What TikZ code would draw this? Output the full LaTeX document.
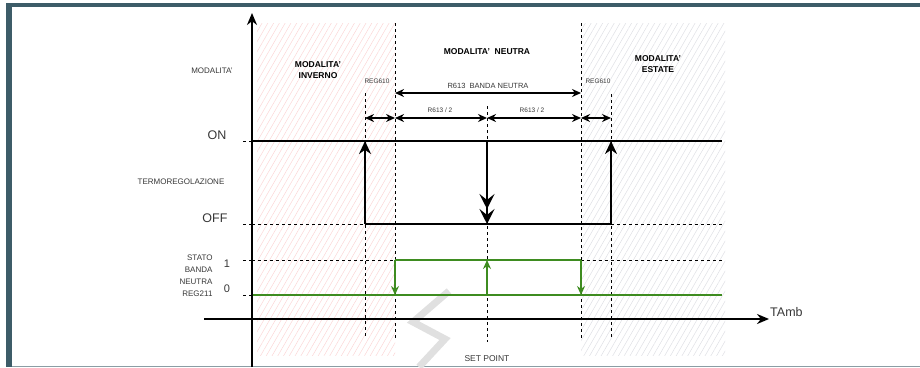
\documentclass[tikz,border=0pt]{standalone}
\usepackage{fontspec}
\setmainfont{Liberation Sans}
\usetikzlibrary{arrows.meta, positioning, patterns.meta, calc}
\definecolor{framegrey}{RGB}{61,92,104}
\definecolor{bandgreen}{RGB}{62,140,32}
\definecolor{winterpink}{RGB}{251,214,214}
\definecolor{summergrey}{RGB}{222,223,228}
\definecolor{labelgrey}{RGB}{55,55,55}

\begin{document}
\begin{tikzpicture}[
    x=1pt, y=-1pt,
    axis/.style={line width=2.6pt, -{Stealth[length=12pt, width=10pt]}},
    level/.style={line width=1.8pt},
    switch/.style={line width=2.2pt, -{Stealth[length=13pt, width=12pt]}},
    drop/.style={line width=2.2pt, -{Stealth[length=15pt, width=15pt, inset=6pt]}},
    bandline/.style={bandgreen, line width=1.3pt},
    bandarrow/.style={bandgreen, line width=1.3pt, -{Stealth[length=9pt, width=8pt]}},
    guide/.style={line width=0.8pt, dash pattern=on 3pt off 3pt},
    span/.style={line width=1.4pt, {Stealth[length=9pt, width=8pt]}-{Stealth[length=9pt, width=8pt]}},
    mode/.style={font=\fontsize{8.5}{11}\selectfont\bfseries, align=center},
    small/.style={font=\fontsize{6.5}{8}\selectfont, text=labelgrey},
    side/.style={font=\fontsize{8}{12}\selectfont, text=labelgrey, align=right},
    big/.style={font=\fontsize{12.5}{14}\selectfont, text=labelgrey}
]
    \useasboundingbox (0,0) rectangle (920,367);

    % frame of the screenshot
    \fill[framegrey] (6,3) rectangle (920,7);
    \fill[framegrey] (6,3) rectangle (12,367);
    \draw[framegrey!60, line width=1pt] (12,366) -- (920,366);

    % hatched mode zones
    \fill[pattern={Lines[angle=60, distance=5pt, line width=0.5pt]}, pattern color=winterpink] (257,23) rectangle (395,355);
    \fill[pattern={Lines[angle=60, distance=5pt, line width=0.5pt]}, pattern color=summergrey] (581,23) rectangle (725,355);

    % watermark
    \draw[black!12, line width=7pt, line join=miter] (449,291) -- (413,322) -- (445,339) -- (419,367);

    % key points
    \coordinate (ona) at (365,141);  \coordinate (offa) at (365,224);
    \coordinate (onc) at (487,141);  \coordinate (offc) at (487,224);
    \coordinate (midc) at (487,209);
    \coordinate (one) at (611,141);  \coordinate (offe) at (611,224);
    \coordinate (hib) at (395,260);  \coordinate (lob) at (395,295);
    \coordinate (hic) at (487,260);  \coordinate (loc) at (487,295);
    \coordinate (hid) at (581,260);  \coordinate (lod) at (581,295);

    % vertical guides
    \draw[guide] (365,93) -- (365,338);
    \draw[guide] (395,23) -- (395,338);
    \draw[guide] (487,106) -- (487,342);
    \draw[guide] (581,23) -- (581,338);
    \draw[guide] (611,94) -- (611,338);

    % horizontal guides
    \foreach \y in {141,224,260,295}
        \draw[guide] (243,\y) -- (252,\y);
    \draw[guide] (252,224) -- (offa);
    \draw[guide] (offe) -- (722,224);
    \draw[guide] (252,260) -- (hib);
    \draw[guide] (hid) -- (722,260);

    % spans
    \draw[span] (395,93) -- (581,93);
    \foreach \a/\b in {365/395, 395/487, 487/581, 581/611}
        \draw[span] (\a,118) -- (\b,118);

    % thermoregulation
    \draw[level] (252,141) -- (722,141);
    \draw[level] (offa) -- (offe);
    \draw[switch] (offa) -- (ona);
    \draw[switch] (offe) -- (one);
    \draw[drop] (onc) -- (offc);
    \draw[drop] (onc) -- (midc);

    % neutral band state
    \draw[bandline] (252,295) -- (722,295);
    \draw[bandline] (hib) -- (hid);
    \draw[bandarrow] (hib) -- (lob);
    \draw[bandarrow] (loc) -- (hic);
    \draw[bandarrow] (hid) -- (lod);

    % axes
    \draw[axis] (252,367) -- (252,13);
    \draw[axis] (204,319) -- (769,319);

    % labels
    \node[font=\fontsize{8}{10}\selectfont, text=labelgrey] (modelabel) at (212,71) {MODALITA'};
    \node[mode] (winter) at (318,70) {MODALITA'\\INVERNO};
    \node[mode] (neutral) at (487,52) {MODALITA'~~NEUTRA};
    \node[mode] (summer) at (658,64) {MODALITA'\\ESTATE};
    \node[small] (regleft) at (377,81) {REG610};
    \node[small] (regright) at (598,81) {REG610};
    \node[font=\fontsize{7.5}{9}\selectfont, text=labelgrey] (bandlabel) at (488,86) {R613~~BANDA NEUTRA};
    \node[small] (halfleft) at (440,110) {R613 / 2};
    \node[small] (halfright) at (532,110) {R613 / 2};
    \node[big, anchor=east] (onlabel) at (230,135) {ON};
    \node[big, anchor=east] (offlabel) at (231,218) {OFF};
    \node[font=\fontsize{8}{10}\selectfont, text=labelgrey] (thermo) at (181,182) {TERMOREGOLAZIONE};
    \node[font=\fontsize{11}{12}\selectfont, text=labelgrey] (onevalue) at (227,264) {1};
    \node[font=\fontsize{11}{12}\selectfont, text=labelgrey] (zerovalue) at (227,289) {0};
    \node[side, anchor=east] (state) at (216,276) {STATO\\BANDA\\NEUTRA\\REG211};
    \node[big, anchor=west, inner sep=1pt] (tamb) at (769,312) {TAmb};
    \node[font=\fontsize{8.5}{10}\selectfont, text=labelgrey] (setpoint) at (487,359) {SET POINT};
\end{tikzpicture}
\end{document}
